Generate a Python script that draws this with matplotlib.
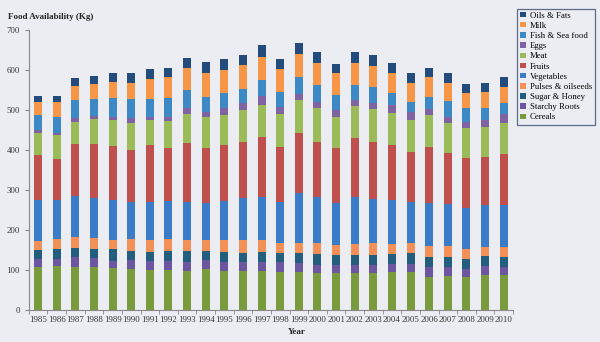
import matplotlib
matplotlib.use("Agg")
import matplotlib.pyplot as plt
from matplotlib.patches import Patch
import numpy as np

years = [str(y) for y in range(1985, 2011)]

cereals = [108, 110, 108, 108, 106, 102, 100, 100, 98, 102, 98, 98, 97, 96, 94, 92, 92, 92, 93, 94, 94, 83, 85, 82, 87, 87]
starchy_roots = [20, 18, 24, 21, 17, 23, 23, 23, 23, 23, 23, 23, 24, 23, 23, 20, 20, 20, 20, 21, 21, 25, 23, 20, 23, 21]
sugar_honey = [22, 25, 22, 24, 29, 23, 23, 25, 27, 23, 25, 21, 23, 23, 25, 28, 25, 25, 25, 24, 27, 25, 24, 25, 25, 25]
pulses_oilseeds = [22, 25, 28, 26, 23, 29, 29, 29, 27, 27, 29, 33, 31, 26, 26, 28, 25, 28, 30, 26, 25, 27, 28, 25, 23, 25]
vegetables = [103, 97, 103, 100, 100, 94, 96, 95, 96, 93, 98, 106, 108, 103, 124, 115, 106, 117, 109, 110, 104, 108, 105, 102, 105, 105]
fruits = [112, 102, 129, 136, 135, 129, 141, 132, 146, 138, 139, 140, 150, 136, 150, 138, 137, 147, 144, 137, 123, 139, 127, 125, 119, 126]
meat = [55, 60, 57, 62, 65, 68, 63, 68, 73, 77, 76, 79, 79, 82, 83, 83, 77, 81, 81, 81, 81, 80, 76, 75, 75, 78]
eggs = [8, 6, 10, 9, 8, 11, 8, 11, 14, 13, 16, 17, 23, 19, 15, 17, 18, 15, 15, 19, 21, 15, 15, 17, 18, 22]
fish_seafood = [37, 39, 44, 41, 46, 48, 44, 48, 46, 37, 38, 35, 40, 38, 42, 41, 37, 37, 41, 30, 25, 31, 39, 33, 29, 28]
milk = [34, 37, 35, 38, 42, 41, 50, 51, 54, 60, 58, 61, 58, 56, 57, 55, 55, 56, 52, 51, 46, 49, 46, 38, 42, 41]
oils_fats = [15, 16, 19, 20, 22, 25, 25, 24, 27, 26, 27, 24, 29, 26, 28, 27, 23, 27, 27, 25, 26, 22, 25, 22, 22, 25]

series = [
    ("Cereals", cereals, "#7A9A3E"),
    ("Starchy Roots", starchy_roots, "#6C56A0"),
    ("Sugar & Honey", sugar_honey, "#245E7E"),
    ("Pulses & oilseeds", pulses_oilseeds, "#F29058"),
    ("Vegetables", vegetables, "#3A7CC8"),
    ("Fruits", fruits, "#C0504D"),
    ("Meat", meat, "#9BBB59"),
    ("Eggs", eggs, "#8064A2"),
    ("Fish & Sea food", fish_seafood, "#3D89C6"),
    ("Milk", milk, "#F79646"),
    ("Oils & Fats", oils_fats, "#234B7B"),
]

bg = "#ECEDF2"
serif = ["Liberation Serif", "DejaVu Serif"]
plt.rcParams["font.family"] = serif

fig = plt.figure(figsize=(6.0, 3.42), dpi=100, facecolor=bg)
ax = fig.add_axes([0.048, 0.0936, 0.807, 0.8186], facecolor=bg)

x = np.arange(len(years))
bottom = np.zeros(len(years))
for name, vals, col in series:
    ax.bar(x, vals, width=0.43, bottom=bottom, color=col, edgecolor="none", label=name)
    bottom += np.array(vals)

ax.set_xlim(-0.5, len(years) - 0.5)
ax.set_ylim(0, 700)
ax.set_yticks(range(0, 701, 100))
ax.set_xticks(x)
ax.set_xticklabels(years)
ax.set_xticks(np.arange(-0.5, len(years), 1.0), minor=True)
ax.tick_params(axis="x", which="major", length=0, labelsize=6.3, pad=4, colors="#333333")
ax.tick_params(axis="x", which="minor", length=3, direction="out", color="#888888")
ax.tick_params(axis="y", which="major", length=3, direction="out", labelsize=6.3, color="#888888", labelcolor="#333333")

for side in ("top", "right"):
    ax.spines[side].set_visible(False)
for side in ("left", "bottom"):
    ax.spines[side].set_color("#888888")
    ax.spines[side].set_linewidth(0.8)

fig.text(0.013, 0.951, "Food Availability (Kg)", fontsize=6.5, fontweight="bold",
         color="#222222", ha="left", va="center")
fig.text(0.495, 0.03, "Year", fontsize=6.5, fontweight="bold", color="#222222",
         ha="center", va="center")

handles = [Patch(facecolor=col, edgecolor="none", label=name) for name, _, col in series][::-1]
leg = fig.legend(handles=handles, loc="upper left", bbox_to_anchor=(0.862, 0.975),
                 fontsize=6.3, frameon=True, fancybox=False, handlelength=0.6,
                 handleheight=0.6, handletextpad=0.5, labelspacing=0.25,
                 borderpad=0.35, borderaxespad=0)
leg.get_frame().set_edgecolor("#3A4A6A")
leg.get_frame().set_facecolor(bg)
leg.get_frame().set_linewidth(0.9)

fig.savefig("out.png", dpi=100, facecolor=bg)
